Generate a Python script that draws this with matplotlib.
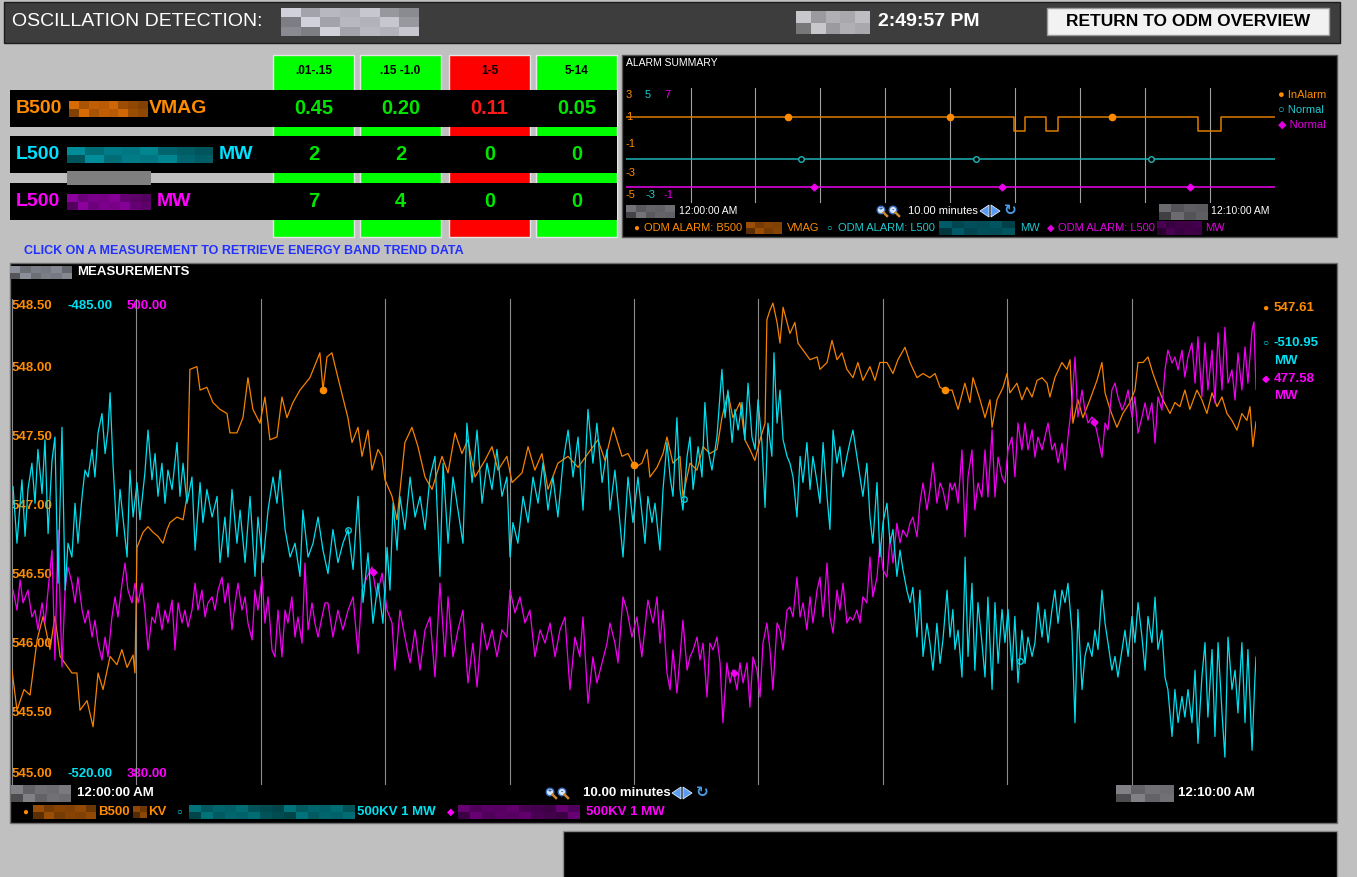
import numpy as np
import matplotlib
matplotlib.use("Agg")
import matplotlib.pyplot as plt
from matplotlib.patches import Rectangle, Circle, Polygon

plt.rcParams['font.family'] = ['Liberation Sans', 'DejaVu Sans']

W, H = 1357, 877

# ---- energy band table ----
bands = [".01-.15", ".15 -1.0", "1-5", "5-14"]
band_alarm = [False, False, True, False]
row_names = ["B500", "L500", "L500"]
row_units = ["VMAG", "MW", "MW"]
row_values = [["0.45", "0.20", "0.11", "0.05"],
              ["2", "2", "0", "0"],
              ["7", "4", "0", "0"]]

# ---- alarm summary (seconds after 12:00:00 AM) ----
alarm_t = [0, 359, 369, 389, 399.5, 529.5, 550, 600]
alarm_orange = [1, 0, 1, 0, 1, 0, 1, 1]
alarm_cyan_t = [0, 600]
alarm_cyan = [0, 0]
alarm_magenta_t = [0, 600]
alarm_magenta = [0, 0]
mark_orange = [150, 300, 450]
mark_cyan = [162, 324, 486]
mark_magenta = [174, 348, 522]

# ---- measurements ----
orange_t = [0, 2.4, 5.8, 8.7, 12.1, 15.0, 18.3, 20.7, 23.2, 25.6,
            28.9, 31.3, 32.8, 36.2, 39.1, 41.5, 43.9, 47.3, 50.6, 53.0,
            55.5, 58.4, 59.3, 60.3, 63.2, 65.6, 68.0, 70.4, 72.8, 74.8,
            76.2, 79.6, 82.5, 84.4, 85.8, 89.2, 90.7, 94.0, 96.9, 100.3,
            103.7, 105.1, 108.5, 111.4, 113.8, 116.2, 119.6, 122.0, 124.4, 127.8,
            130.2, 132.6, 135.5, 138.9, 143.7, 148.5, 150.0, 151.9, 154.3, 157.2,
            162.0, 164.0, 166.9, 168.8, 171.7, 173.6, 176.5, 178.5, 179.9, 183.3,
            185.7, 189.5, 192.9, 195.8, 199.2, 202.6, 207.4, 210.3, 213.7, 217.0,
            219.9, 223.3, 228.1, 231.5, 234.4, 238.7, 241.2, 246.0, 248.9, 252.2,
            255.6, 258.5, 263.3, 268.2, 273.0, 277.8, 282.6, 286.0, 289.9, 294.2,
            297.1, 300.5, 303.8, 306.3, 307.7, 311.1, 314.0, 315.9, 318.8, 322.2,
            323.6, 327.0, 330.4, 333.3, 336.6, 340.0, 342.4, 345.3, 347.7, 351.1,
            353.5, 355.9, 358.3, 360.8, 363.2, 364.1, 365.6, 367.0, 369.0, 370.4,
            371.9, 375.2, 377.6, 379.1, 381.5, 384.9, 388.3, 389.7, 393.1, 395.5,
            397.9, 400.3, 402.7, 405.6, 408.0, 410.4, 413.8, 416.2, 418.6, 422.0,
            424.9, 427.3, 430.7, 433.1, 436.5, 439.4, 442.7, 445.2, 447.6, 450.0,
            453.4, 456.3, 459.6, 462.0, 463.5, 466.9, 469.3, 471.7, 472.7, 475.1,
            478.0, 479.9, 481.3, 484.7, 487.1, 489.5, 492.0, 494.4, 496.8, 499.2,
            500.6, 503.0, 506.4, 508.8, 510.3, 511.7, 514.1, 516.5, 519.9, 523.3,
            525.7, 527.2, 529.6, 532.9, 535.8, 539.2, 541.6, 543.1, 545.5, 547.9,
            550.3, 552.7, 555.1, 558.5, 560.9, 563.3, 565.7, 568.1, 571.5, 573.9,
            576.3, 578.8, 581.2, 583.6, 586.0, 588.4, 590.8, 593.2, 595.6, 597.1,
            598.5, 600.0]
orange_v = [545.81, 545.52, 545.67, 545.63, 546.03, 546.20, 545.96, 546.20, 545.91, 545.86,
            545.79, 545.79, 545.52, 545.59, 545.40, 545.79, 545.67, 545.91, 545.85, 545.96,
            545.83, 545.92, 545.79, 546.70, 546.81, 546.85, 546.81, 546.78, 546.73, 546.83,
            546.88, 546.92, 546.90, 547.07, 547.99, 548.01, 547.84, 547.86, 547.75, 547.70,
            547.67, 547.53, 547.53, 547.64, 547.93, 547.70, 547.60, 547.79, 547.48, 547.50,
            547.79, 547.64, 547.75, 547.84, 547.93, 548.11, 547.84, 548.08, 548.11, 547.93,
            547.64, 547.46, 547.57, 547.36, 547.55, 547.26, 547.41, 547.36, 547.19, 547.07,
            546.90, 547.46, 547.57, 547.43, 547.21, 547.12, 547.36, 547.24, 547.53, 547.38,
            547.48, 547.21, 547.33, 547.43, 547.26, 547.36, 547.17, 547.24, 547.43, 547.26,
            547.38, 547.12, 547.31, 547.36, 547.28, 547.38, 547.48, 547.33, 547.57, 547.36,
            547.38, 547.28, 547.31, 547.41, 547.21, 547.28, 547.38, 547.50, 547.31, 547.36,
            547.07, 547.31, 547.26, 547.43, 547.38, 547.41, 547.64, 547.82, 547.64, 547.75,
            547.48, 547.41, 547.33, 547.48, 547.60, 548.35, 548.42, 548.47, 548.33, 548.18,
            548.44, 548.25, 548.33, 548.18, 548.13, 548.06, 548.08, 547.99, 548.04, 548.20,
            548.06, 548.11, 547.99, 547.93, 548.04, 547.91, 548.01, 547.91, 548.04, 548.04,
            547.96, 548.06, 548.15, 548.04, 547.93, 547.96, 547.93, 547.96, 547.86, 547.84,
            547.84, 547.70, 547.89, 547.75, 547.93, 547.77, 547.64, 547.77, 547.57, 547.77,
            547.86, 547.96, 547.82, 547.89, 547.77, 547.86, 547.79, 547.91, 547.93, 547.89,
            547.79, 547.93, 548.04, 547.99, 548.06, 547.60, 547.77, 547.64, 547.77, 547.91,
            548.04, 547.82, 547.70, 547.57, 547.67, 547.75, 547.84, 548.04, 548.04, 548.08,
            547.96, 547.86, 547.77, 547.67, 547.75, 547.72, 547.84, 547.70, 547.84, 547.77,
            547.67, 547.82, 547.72, 547.79, 547.67, 547.62, 547.55, 547.67, 547.62, 547.72,
            547.43, 547.61]

cyan_t = [0.5, 2.4, 4.8, 6.3, 7.7, 9.6, 11.1, 12.5, 14.5, 15.9,
          17.4, 19.3, 20.7, 22.2, 24.1, 25.6, 27.0, 28.9, 30.4, 31.8,
          33.8, 35.2, 36.7, 38.6, 40.0, 41.5, 43.4, 44.9, 46.3, 47.3,
          48.7, 50.6, 52.1, 53.5, 55.5, 56.9, 58.4, 60.3, 61.7, 64.1,
          65.6, 67.5, 69.0, 70.4, 72.3, 73.8, 75.2, 77.2, 79.6, 81.0,
          82.5, 84.4, 86.8, 88.3, 90.7, 92.1, 94.0, 96.5, 98.9, 100.3,
          102.7, 104.2, 106.1, 108.5, 110.0, 112.4, 114.8, 117.2, 118.6, 121.1,
          123.5, 125.9, 127.8, 129.3, 131.7, 134.1, 136.5, 138.9, 140.3, 142.8,
          145.2, 147.6, 150.0, 152.4, 154.8, 157.2, 159.6, 162.1, 164.5, 166.9,
          169.3, 171.7, 174.1, 176.5, 178.9, 180.9, 182.3, 183.8, 185.7, 187.1,
          189.5, 192.0, 194.4, 196.8, 199.2, 201.6, 204.0, 206.4, 207.9, 210.3,
          212.7, 215.1, 217.5, 219.4, 221.9, 224.3, 226.7, 229.1, 231.5, 233.9,
          236.3, 238.7, 240.2, 241.6, 244.0, 246.5, 248.9, 251.3, 253.7, 256.1,
          258.5, 260.9, 263.3, 265.7, 268.2, 270.6, 273.0, 275.4, 277.8, 280.2,
          282.1, 284.6, 287.0, 288.4, 290.8, 293.2, 294.7, 297.1, 299.5, 301.9,
          304.3, 305.3, 306.7, 308.7, 310.1, 312.5, 314.0, 315.9, 317.4, 318.8,
          320.7, 322.2, 323.6, 325.6, 327.0, 328.5, 330.9, 332.8, 334.2, 335.7,
          337.6, 340.0, 342.4, 343.9, 345.3, 347.3, 348.7, 350.2, 352.1, 353.5,
          355.0, 356.9, 358.4, 359.8, 361.7, 363.2, 364.6, 366.5, 367.5, 369.0,
          370.4, 371.9, 373.8, 375.2, 376.7, 378.6, 380.1, 381.5, 383.4, 384.9,
          386.3, 388.3, 389.7, 391.2, 393.1, 394.5, 396.0, 397.9, 399.3, 400.8,
          402.7, 404.1, 405.6, 407.5, 409.0, 410.4, 412.3, 413.8, 415.2, 417.2,
          418.6, 420.1, 422.0, 423.5, 424.9, 426.8, 428.3, 429.7, 431.6, 433.1,
          434.5, 436.5, 437.9, 439.4, 441.3, 442.7, 444.2, 446.1, 447.6, 449.0,
          451.0, 452.4, 453.8, 454.8, 456.3, 458.2, 459.7, 461.1, 463.0, 464.4,
          465.9, 467.8, 469.3, 470.7, 472.7, 474.1, 475.6, 477.5, 478.9, 480.4,
          482.3, 483.7, 485.2, 487.1, 488.6, 490.0, 492.0, 493.4, 494.8, 496.8,
          498.2, 499.7, 501.6, 503.0, 504.5, 506.4, 507.9, 509.3, 511.2, 512.7,
          514.1, 516.1, 517.5, 519.0, 520.9, 522.3, 523.8, 525.7, 527.2, 528.6,
          530.5, 532.0, 533.4, 535.4, 536.8, 538.3, 540.2, 541.6, 543.1, 545.0,
          546.5, 547.9, 549.8, 551.3, 552.7, 554.6, 556.1, 557.5, 559.5, 560.9,
          562.4, 564.3, 565.7, 567.2, 569.1, 570.6, 572.0, 573.9, 575.4, 576.8,
          578.8, 580.2, 581.7, 583.6, 585.0, 586.5, 588.4, 589.9, 591.3, 593.2,
          594.7, 596.1, 598.1, 599.5, 600.0]
cyan_v = [-498.6, -502.7, -498.1, -502.2, -498.8, -496.9, -499.8, -495.9, -499.1, -495.2,
          -502.0, -496.7, -495.0, -505.6, -494.3, -506.1, -502.7, -503.7, -499.8, -502.7,
          -499.3, -497.4, -497.9, -495.9, -497.9, -494.7, -493.3, -496.2, -494.5, -491.8,
          -496.9, -502.2, -498.8, -500.8, -503.7, -497.4, -500.8, -498.3, -501.0, -497.6,
          -494.5, -498.1, -496.2, -499.3, -496.9, -499.8, -497.4, -498.8, -495.4, -499.3,
          -496.9, -499.8, -497.9, -503.2, -498.3, -501.2, -498.8, -500.8, -499.3, -504.1,
          -500.8, -503.7, -498.8, -502.7, -500.3, -504.1, -499.3, -505.1, -500.8, -504.1,
          -500.3, -497.9, -499.8, -497.4, -501.7, -503.7, -502.7, -505.1, -500.3, -503.7,
          -502.7, -500.8, -503.2, -504.9, -501.7, -504.1, -502.7, -501.7, -504.6, -499.3,
          -507.0, -503.4, -508.5, -505.6, -508.5, -503.0, -506.1, -499.8, -503.2, -499.3,
          -501.7, -497.9, -500.8, -499.3, -501.7, -497.9, -496.4, -505.1, -496.9, -502.7,
          -497.9, -500.3, -502.7, -494.0, -498.3, -494.5, -499.8, -496.9, -498.8, -495.9,
          -499.3, -497.9, -503.7, -501.2, -502.7, -499.3, -501.2, -497.9, -499.8, -496.9,
          -500.3, -497.9, -500.8, -496.9, -494.5, -497.9, -495.0, -500.3, -493.0, -496.9,
          -494.0, -498.3, -495.9, -500.3, -497.4, -501.2, -503.7, -497.9, -501.2, -497.9,
          -501.2, -502.7, -499.3, -501.2, -499.8, -503.2, -498.8, -495.4, -497.9, -499.3,
          -493.6, -498.8, -500.3, -496.4, -495.0, -498.8, -495.7, -497.9, -492.5, -495.9,
          -497.4, -495.0, -490.1, -493.6, -491.6, -495.4, -493.0, -494.5, -492.5, -495.2,
          -491.1, -495.0, -495.9, -492.3, -495.4, -500.1, -494.0, -496.4, -488.9, -494.0,
          -491.6, -495.2, -496.4, -496.9, -497.9, -500.8, -496.4, -498.3, -495.4, -498.8,
          -496.4, -498.3, -499.8, -495.4, -499.3, -501.7, -494.5, -496.9, -495.7, -497.9,
          -496.4, -495.4, -494.5, -496.4, -497.9, -499.3, -496.9, -500.8, -502.7, -498.3,
          -503.7, -501.2, -499.8, -502.7, -501.7, -505.1, -503.2, -504.6, -506.1, -507.0,
          -505.9, -509.5, -506.1, -510.9, -508.5, -509.9, -511.9, -508.5, -511.4, -509.7,
          -506.1, -509.5, -507.5, -510.4, -509.0, -512.4, -503.7, -510.9, -505.6, -511.9,
          -507.0, -509.9, -512.4, -506.6, -513.3, -507.0, -511.4, -507.5, -509.9, -507.5,
          -511.9, -508.0, -512.8, -509.0, -511.4, -509.5, -510.9, -509.9, -507.0, -509.5,
          -507.5, -509.9, -507.5, -506.1, -508.5, -506.1, -507.0, -505.6, -509.0, -515.7,
          -507.5, -513.3, -510.9, -509.9, -510.9, -509.0, -510.4, -506.1, -508.5, -509.9,
          -511.9, -510.9, -512.4, -510.4, -509.0, -510.9, -508.0, -509.9, -507.0, -509.5,
          -511.9, -508.0, -509.9, -506.6, -510.4, -509.0, -512.4, -513.3, -516.7, -513.3,
          -515.7, -513.8, -515.3, -513.3, -515.7, -511.9, -517.2, -512.4, -509.9, -515.3,
          -510.4, -516.7, -509.9, -515.0, -518.2, -509.5, -513.3, -511.9, -515.0, -509.9,
          -515.7, -510.4, -517.7, -512.4, -510.95]

magenta_t = [0.5, 2.4, 3.9, 5.3, 7.7, 9.6, 11.1, 12.5, 14.5, 15.9,
             17.4, 19.3, 20.7, 22.2, 24.1, 25.6, 27.0, 28.9, 30.4, 31.8,
             33.8, 35.2, 36.7, 38.6, 40.0, 41.5, 43.4, 44.9, 46.3, 48.2,
             49.7, 51.1, 53.1, 54.5, 55.9, 57.9, 59.3, 60.8, 62.7, 64.1,
             65.6, 67.5, 69.0, 70.4, 72.3, 73.8, 75.2, 77.2, 78.6, 80.1,
             82.0, 83.4, 84.9, 86.8, 88.3, 89.7, 91.6, 93.1, 94.5, 96.5,
             97.9, 99.4, 101.3, 102.7, 104.2, 106.1, 107.6, 109.0, 110.9, 112.4,
             113.8, 115.8, 117.2, 118.6, 120.6, 122.0, 123.5, 125.4, 126.8, 128.3,
             130.2, 131.7, 133.1, 135.0, 136.5, 137.9, 139.9, 141.3, 142.8, 144.7,
             146.1, 147.6, 149.5, 151.0, 152.4, 154.8, 157.2, 159.6, 162.1, 164.5,
             166.9, 168.8, 171.2, 173.6, 176.0, 178.5, 180.9, 183.3, 184.7, 187.1,
             189.5, 192.0, 194.4, 196.8, 199.2, 201.6, 204.0, 206.4, 208.8, 210.3,
             212.7, 215.1, 217.5, 219.9, 222.3, 224.3, 226.7, 229.1, 231.5, 233.9,
             236.3, 238.7, 240.2, 242.6, 245.0, 247.4, 249.8, 252.2, 254.7, 257.1,
             259.5, 261.9, 264.3, 266.7, 269.1, 271.5, 273.9, 275.4, 277.8, 280.2,
             282.1, 284.6, 287.0, 288.4, 290.8, 292.3, 294.7, 296.6, 299.0, 301.4,
             303.8, 306.7, 309.2, 311.1, 312.5, 314.0, 315.9, 317.4, 318.8, 320.7,
             322.2, 323.6, 325.6, 327.0, 328.5, 330.4, 331.8, 333.3, 335.2, 336.6,
             338.1, 340.0, 341.5, 342.9, 344.8, 346.3, 347.7, 349.7, 351.1, 352.6,
             354.5, 355.9, 357.4, 359.3, 360.8, 362.2, 364.1, 365.6, 367.0, 369.0,
             370.4, 371.9, 373.8, 375.2, 376.7, 378.6, 380.1, 381.5, 383.4, 384.9,
             386.3, 388.3, 389.7, 391.2, 393.1, 394.5, 396.0, 397.9, 399.3, 400.8,
             402.7, 404.1, 405.6, 407.5, 409.0, 410.4, 412.3, 413.8, 415.2, 417.2,
             418.6, 420.1, 422.0, 423.5, 424.9, 426.8, 428.3, 429.7, 431.6, 433.1,
             434.5, 436.5, 437.9, 439.4, 441.3, 442.7, 444.2, 446.1, 447.6, 449.0,
             451.0, 452.4, 453.4, 454.8, 456.3, 458.2, 459.7, 461.1, 463.0, 464.4,
             465.9, 467.8, 469.3, 470.7, 472.7, 474.1, 475.6, 477.5, 478.9, 480.4,
             482.3, 483.7, 485.2, 487.1, 488.6, 490.0, 492.0, 493.4, 494.8, 496.8,
             498.2, 499.7, 501.6, 503.0, 504.5, 506.4, 507.9, 509.3, 511.2, 512.7,
             514.1, 516.1, 517.5, 519.0, 520.9, 522.3, 523.8, 525.7, 527.2, 528.6,
             530.5, 532.0, 533.4, 535.4, 536.8, 538.3, 540.2, 541.6, 543.1, 545.0,
             546.5, 547.9, 549.8, 551.3, 552.7, 554.6, 556.1, 557.5, 559.5, 560.9,
             562.4, 564.3, 565.7, 567.2, 569.1, 570.6, 572.0, 573.9, 575.4, 576.8,
             578.8, 580.2, 581.7, 583.6, 585.0, 586.5, 588.4, 589.9, 591.3, 593.2,
             594.7, 596.1, 598.1, 599.0, 600.0]
magenta_v = [427.7, 422.7, 430.2, 424.5, 427.7, 421.0, 422.7, 417.8, 424.5, 419.5,
             427.7, 437.6, 410.3, 442.6, 408.6, 427.7, 433.4, 429.4, 424.5, 430.9,
             422.7, 419.5, 422.7, 416.0, 420.2, 414.5, 410.3, 416.0, 411.1, 421.0,
             426.0, 421.0, 429.4, 434.4, 427.7, 424.5, 429.4, 424.5, 429.4, 422.7,
             412.8, 421.0, 419.5, 424.5, 417.8, 422.7, 419.5, 425.2, 412.8, 424.5,
             419.5, 422.7, 418.5, 422.7, 429.4, 422.7, 427.7, 421.0, 424.5, 426.0,
             422.7, 427.7, 430.9, 424.5, 429.4, 417.8, 424.5, 429.4, 422.7, 426.0,
             419.5, 415.3, 427.7, 422.7, 430.9, 419.5, 426.0, 412.8, 411.1, 422.7,
             411.1, 422.7, 419.5, 426.0, 416.0, 421.0, 414.5, 434.4, 417.8, 424.5,
             419.5, 416.0, 421.0, 424.5, 424.5, 416.0, 422.7, 417.8, 422.7, 426.0,
             411.9, 427.7, 430.9, 433.4, 426.0, 431.9, 422.7, 419.5, 407.8, 422.7,
             416.0, 409.6, 417.8, 407.8, 417.8, 421.0, 406.1, 429.4, 411.1, 426.0,
             411.1, 417.8, 422.7, 404.6, 414.5, 403.6, 419.5, 412.8, 417.8, 411.1,
             417.8, 416.0, 427.7, 422.0, 426.0, 419.5, 422.7, 411.1, 417.8, 414.5,
             419.5, 411.1, 417.8, 421.0, 402.9, 416.0, 411.1, 421.0, 399.6, 411.1,
             404.6, 409.6, 414.5, 419.5, 414.5, 409.6, 426.0, 422.7, 416.0, 421.0,
             411.1, 425.2, 419.5, 426.0, 414.5, 422.7, 407.1, 402.9, 412.8, 402.1,
             411.1, 420.2, 407.8, 411.1, 412.8, 416.0, 410.3, 414.5, 401.1, 414.5,
             412.8, 416.0, 409.6, 394.7, 409.6, 404.6, 407.8, 402.9, 409.6, 404.6,
             409.6, 398.6, 411.1, 407.8, 401.1, 414.5, 419.5, 412.8, 402.9, 419.5,
             417.8, 412.8, 422.7, 423.5, 421.0, 430.9, 421.0, 424.5, 417.8, 426.0,
             419.5, 427.7, 430.9, 421.0, 434.4, 421.0, 417.0, 427.7, 422.7, 429.4,
             419.5, 421.0, 420.2, 422.7, 419.5, 426.0, 424.5, 435.9, 426.0, 430.9,
             439.4, 432.7, 430.9, 440.9, 434.4, 444.3, 439.4, 442.6, 440.9, 444.3,
             445.8, 440.9, 449.3, 454.3, 447.6, 452.5, 459.3, 449.3, 454.3, 452.5,
             447.6, 454.3, 452.5, 454.3, 449.3, 462.5, 440.9, 455.8, 462.5, 447.6,
             454.3, 450.8, 462.5, 450.8, 467.5, 450.8, 460.7, 455.8, 454.3, 462.5,
             465.7, 455.8, 469.2, 462.5, 469.2, 462.5, 467.5, 460.7, 465.7, 462.5,
             465.7, 469.2, 462.5, 464.2, 459.3, 464.2, 457.5, 465.7, 474.2, 485.6,
             470.7, 477.4, 472.4, 469.2, 470.7, 469.2, 465.7, 460.7, 469.2, 467.5,
             477.4, 479.1, 475.7, 472.4, 474.2, 477.4, 470.7, 475.7, 466.7, 470.7,
             474.2, 469.9, 474.2, 464.2, 475.7, 472.4, 482.4, 487.3, 484.1, 485.6,
             482.4, 487.3, 480.6, 485.6, 489.1, 479.1, 490.6, 475.7, 489.1, 477.4,
             487.3, 474.2, 491.6, 477.4, 493.0, 479.1, 482.4, 474.9, 486.6, 477.4,
             488.1, 479.1, 492.3, 494.3, 477.58]

orange_ticks = [548.5, 548.0, 547.5, 547.0, 546.5, 546.0, 545.5, 545.0]
cyan_range = (-520.0, -485.0)
magenta_range = (380.0, 500.0)

ORANGE = '#ff8c00'
ORANGE_LINE = '#f58200'
CYAN = '#00e0f0'
MAGENTA = '#f200f2'
GREEN = '#00ff00'
RED = '#ff0000'

fig = plt.figure(figsize=(W / 100, H / 100), dpi=100)
fig.patch.set_facecolor('#c0c0c0')
bg = fig.add_axes([0, 0, 1, 1])
bg.set_xlim(0, W)
bg.set_ylim(H, 0)
bg.axis('off')


def box(x, y, w, h, fc, ec='none', lw=0, z=1):
    bg.add_patch(Rectangle((x, y), w, h, facecolor=fc, edgecolor=ec, linewidth=lw, zorder=z))


def txt(x, y, s, color='white', size=9, weight='normal', ha='left', z=3, family=None):
    kw = {'family': family} if family else {}
    bg.text(x, y, s, color=color, fontsize=size, fontweight=weight, ha=ha, va='center', zorder=z, **kw)


SHADES = [1.0, 0.72, 0.88, 0.6, 0.95, 0.78, 0.66, 0.85]


def blur(x, y, w, h, rgb, cols, rows):
    # pixelated placeholder for the masked station names
    cw, rh = w / cols, h / rows
    for i in range(rows):
        for j in range(cols):
            f = SHADES[(i * 3 + j * 5) % len(SHADES)]
            c = tuple(min(1.0, ch * f) for ch in rgb)
            box(x + j * cw, y + i * rh, cw + 0.4, rh + 0.4, c, z=2)


def zoom_icons(x, cy):
    for k, sign in enumerate(['+', '-']):
        cx = x + 4 + k * 12
        bg.add_patch(Circle((cx, cy - 1), 3.8, facecolor='#d5e6ff', edgecolor='#3a6cc0', lw=1, zorder=3))
        bg.plot([cx + 2.6, cx + 6], [cy + 1.6, cy + 5], color='#c98a2c', lw=1.8, zorder=3)
        bg.text(cx, cy - 1.2, sign, color='#234a99', fontsize=5, ha='center', va='center', zorder=4, fontweight='bold')


def nav_icons(x, cy):
    bg.add_patch(Polygon([(x, cy), (x + 9, cy - 6), (x + 9, cy + 6)], closed=True,
                         facecolor='#5b9cf0', edgecolor='#dfeeff', lw=0.6, zorder=3))
    bg.add_patch(Polygon([(x + 20, cy), (x + 11, cy - 6), (x + 11, cy + 6)], closed=True,
                         facecolor='#5b9cf0', edgecolor='#dfeeff', lw=0.6, zorder=3))
    bg.text(x + 30, cy, '\u21bb', color='#4a9be8', fontsize=11, fontweight='bold',
            ha='center', va='center', zorder=3, family='DejaVu Sans')


# ---- header bar ----
box(4, 2, 1336, 41, '#3d3d3d', ec='#1c1c1c', lw=1)
txt(12, 22, "OSCILLATION DETECTION:", size=14)
blur(281, 8, 138, 28, (0.82, 0.82, 0.86), 7, 3)
blur(796, 11, 74, 23, (0.78, 0.78, 0.8), 5, 2)
txt(878, 22, "2:49:57 PM", size=14, weight='bold')
box(1047, 8, 282, 27, '#f2f2f2', ec='#9a9a9a', lw=1)
txt(1188, 21.5, "RETURN TO ODM OVERVIEW", color='black', size=12.5, weight='bold', ha='center')

# ---- energy band table ----
col_x = [273, 360, 449, 536]
for cx, lab, alarm in zip(col_x, bands, band_alarm):
    box(cx, 55, 81, 182, RED if alarm else GREEN, ec='#e6e6e6', lw=1)
    txt(cx + 40.5, 71, lab, color='black', size=8.5, weight='bold', ha='center')

row_y = [90, 136, 183]
name_col = [ORANGE, '#00e0ff', '#ff00ff']
blur_rgb = [(0.85, 0.42, 0.02), (0.0, 0.55, 0.6), (0.55, 0.0, 0.62)]
blur_w = [79, 146, 84]
for r, y in enumerate(row_y):
    box(10, y, 607, 37, 'black')
    cy = y + 18.5
    txt(16, cy, row_names[r], color=name_col[r], size=14, weight='bold')
    blur(69 if r == 0 else 67, cy - 8, blur_w[r], 16, blur_rgb[r], 8, 2)
    unit_x = 69 + blur_w[r] + 1 if r == 0 else 67 + blur_w[r] + 6
    txt(unit_x, cy, row_units[r], color=name_col[r], size=14, weight='bold')
    for cx, val, alarm in zip(col_x, row_values[r], band_alarm):
        col = '#ff1a1a' if (alarm and r == 0) else '#00e600'
        txt(cx + 40.5, cy, val, color=col, size=14.5, weight='bold', ha='center')
box(67, 171, 84, 14, '#7f7f7f', z=1.5)

txt(24, 251, "CLICK ON A MEASUREMENT TO RETRIEVE ENERGY BAND TREND DATA",
    color='#2230ff', size=9, weight='bold')

# ---- alarm summary panel ----
box(622, 55, 715, 182, 'black', ec='#555555', lw=1)
txt(626, 63, "ALARM SUMMARY", size=7.5)
for xx, s, c in [(626, '3', ORANGE), (645, '5', '#20c8d0'), (664, '7', '#e000e0')]:
    txt(xx, 95, s, color=c, size=8)
txt(626, 117, '1', color=ORANGE, size=8)
txt(626, 144, '-1', color=ORANGE, size=8)
txt(626, 173, '-3', color=ORANGE, size=8)
for xx, s, c in [(626, '-5', ORANGE), (645, '-3', '#20c8d0'), (663, '-1', '#e000e0')]:
    txt(xx, 195, s, color=c, size=8)
txt(1278, 95, '\u25cf InAlarm', color=ORANGE, size=8)
txt(1278, 110, '\u25cb Normal', color='#20c8d0', size=8)
txt(1278, 125, '\u25c6 Normal', color='#e000e0', size=8)
blur(626, 205, 49, 13, (0.45, 0.45, 0.47), 5, 2)
txt(679, 211, "12:00:00 AM", size=7.5)
zoom_icons(877, 211)
txt(908, 211, "10.00 minutes", size=8)
nav_icons(980, 211)
blur(1159, 204, 49, 16, (0.42, 0.42, 0.44), 4, 2)
txt(1211, 211, "12:10:00 AM", size=7.5)
txt(633, 228, '\u25cf', color=ORANGE, size=7)
txt(644, 228, "ODM ALARM: B500", color=ORANGE, size=8)
blur(746, 222, 36, 12, (0.6, 0.3, 0.02), 4, 2)
txt(787, 228, "VMAG", color=ORANGE, size=8)
txt(826, 228, '\u25cb', color='#20c8d0', size=7)
txt(838, 228, "ODM ALARM: L500", color='#20c8d0', size=8)
blur(939, 221, 76, 14, (0.0, 0.35, 0.4), 6, 2)
txt(1020, 228, "MW", color='#20c8d0', size=8)
txt(1047, 228, '\u25c6', color='#e000e0', size=7)
txt(1058, 228, "ODM ALARM: L500", color='#e000e0', size=8)
blur(1157, 221, 45, 14, (0.28, 0.0, 0.32), 5, 2)
txt(1205, 228, "MW", color='#e000e0', size=8)

al_o = fig.add_axes([625.6 / W, 1 - 201 / H, 649 / W, 112 / H])
al_o.set_xlim(0, 600)
al_o.set_ylim(-5, 3)
al_o.axis('off')
for t in range(60, 600, 60):
    al_o.axvline(t, ymin=-0.01, ymax=1.01, color='#a0a0a0', lw=0.8, clip_on=False)
al_o.step(alarm_t, alarm_orange, where='post', color='#dd7d00', lw=1.1)
ost = [alarm_orange[np.searchsorted(alarm_t, t, side='right') - 1] for t in mark_orange]
al_o.plot(mark_orange, ost, 'o', color=ORANGE, ms=4.5)
al_c = al_o.twinx()
al_c.set_ylim(-3, 5)
al_c.axis('off')
al_c.plot(alarm_cyan_t, alarm_cyan, color='#1fb4b8', lw=1.1)
al_c.plot(mark_cyan, np.interp(mark_cyan, alarm_cyan_t, alarm_cyan), 'o', ms=4,
          mfc='black', mec='#1fb4b8', mew=1)
al_m = al_o.twinx()
al_m.set_ylim(-1, 7)
al_m.axis('off')
al_m.plot(alarm_magenta_t, alarm_magenta, color='#ee00ee', lw=1.1)
al_m.plot(mark_magenta, np.interp(mark_magenta, alarm_magenta_t, alarm_magenta), 'D',
          color='#ee00ee', ms=3.5)

# ---- measurements panel ----
box(10, 263, 1327, 560, 'black', ec='#6e6e6e', lw=1)
box(563, 831, 774, 50, 'black', ec='#8a8a8a', lw=1)
blur(10, 266, 62, 13, (0.55, 0.56, 0.6), 6, 2)
txt(77, 272, "MEASUREMENTS", size=9.5, weight='bold')

y_top, y_bot = 299, 782
for v in orange_ticks:
    yy = y_top + (orange_ticks[0] - v) / (orange_ticks[0] - orange_ticks[-1]) * (y_bot - y_top)
    yy = min(max(yy, 306), 774)
    txt(12, yy, f"{v:.2f}", color=ORANGE, size=9.5, weight='bold', z=1.5)
txt(68, 306, f"{cyan_range[1]:.2f}", color=CYAN, size=9.5, weight='bold', z=1.5)
txt(68, 774, f"{cyan_range[0]:.2f}", color=CYAN, size=9.5, weight='bold', z=1.5)
txt(127, 306, f"{magenta_range[1]:.2f}", color='#ff00ff', size=9.5, weight='bold', z=1.5)
txt(127, 774, f"{magenta_range[0]:.2f}", color='#ff00ff', size=9.5, weight='bold', z=1.5)

txt(1262, 308, '\u25cf', color=ORANGE, size=7.5)
txt(1274, 308, f"{orange_v[-1]:.2f}", color=ORANGE, size=9.5, weight='bold')
txt(1262, 343, '\u25cb', color=CYAN, size=7.5)
txt(1274, 343, f"{cyan_v[-1]:.2f}", color=CYAN, size=9.5, weight='bold')
txt(1274, 361, "MW", color=CYAN, size=9.5, weight='bold')
txt(1262, 379, '\u25c6', color='#ff00ff', size=7.5)
txt(1274, 379, f"{magenta_v[-1]:.2f}", color='#ff00ff', size=9.5, weight='bold')
txt(1274, 396, "MW", color='#ff00ff', size=9.5, weight='bold')

blur(11, 785, 60, 17, (0.5, 0.5, 0.52), 5, 2)
txt(77, 793, "12:00:00 AM", size=9.5, weight='bold')
zoom_icons(546, 793)
txt(583, 793, "10.00 minutes", size=9.5, weight='bold')
nav_icons(672, 793)
blur(1116, 785, 58, 17, (0.5, 0.5, 0.52), 4, 2)
txt(1178, 793, "12:10:00 AM", size=9.5, weight='bold')

txt(22, 812, '\u25cf', color=ORANGE, size=7)
blur(33, 805, 63, 14, (0.6, 0.3, 0.02), 6, 2)
txt(98, 812, "B500", color=ORANGE, size=9.5, weight='bold')
blur(133, 806, 14, 12, (0.55, 0.28, 0.02), 2, 2)
txt(148, 812, "KV", color=ORANGE, size=9.5, weight='bold')
txt(176, 812, '\u25cb', color=CYAN, size=7)
blur(189, 805, 166, 14, (0.0, 0.45, 0.48), 14, 2)
txt(357, 812, "500KV 1 MW", color=CYAN, size=9.5, weight='bold')
txt(447, 812, '\u25c6', color='#ff00ff', size=7)
blur(458, 805, 122, 14, (0.4, 0.0, 0.45), 10, 2)
txt(586, 812, "500KV 1 MW", color='#ff00ff', size=9.5, weight='bold')

ax_o = fig.add_axes([12 / W, 1 - y_bot / H, 1244 / W, (y_bot - y_top) / H])
ax_o.set_xlim(0, 600)
ax_o.set_ylim(orange_ticks[-1], orange_ticks[0])
ax_o.axis('off')
for t in range(0, 600, 60):
    ax_o.axvline(t, ymin=-0.004, ymax=1.0, color='#8c8c8c', lw=0.8, clip_on=False)
ax_o.plot(orange_t, orange_v, color=ORANGE_LINE, lw=0.9)
ax_o.plot(mark_orange, np.interp(mark_orange, orange_t, orange_v), 'o', color=ORANGE, ms=4.5)

ax_m = ax_o.twinx()
ax_m.set_ylim(*magenta_range)
ax_m.axis('off')
ax_m.plot(magenta_t, magenta_v, color=MAGENTA, lw=0.9)
ax_m.plot(mark_magenta, np.interp(mark_magenta, magenta_t, magenta_v), 'D', color=MAGENTA, ms=3.5)

ax_c = ax_o.twinx()
ax_c.set_ylim(*cyan_range)
ax_c.axis('off')
ax_c.plot(cyan_t, cyan_v, color=CYAN, lw=0.9)
ax_c.plot(mark_cyan, np.interp(mark_cyan, cyan_t, cyan_v), 'o', ms=4,
          mfc='none', mec=CYAN, mew=0.9)

plt.savefig("out.png", dpi=100, facecolor=fig.get_facecolor())
